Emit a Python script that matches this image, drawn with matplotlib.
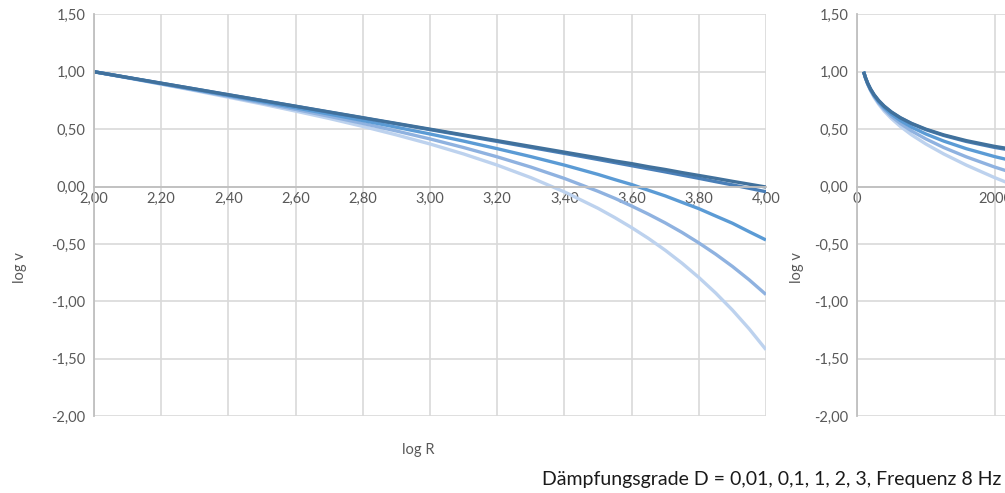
import matplotlib
matplotlib.use("Agg")
import matplotlib.pyplot as plt
from matplotlib.ticker import FuncFormatter

plt.rcParams['font.family'] = ['Lato', 'DejaVu Sans']

# log R stuetzstellen (gegen Ende enger, dort kruemmen sich die Kurven)
log_r = [2.0, 2.1, 2.2, 2.3, 2.4, 2.5, 2.6, 2.7, 2.8, 2.9, 3.0,
         3.1, 3.2, 3.3, 3.4, 3.5, 3.55, 3.6, 3.65, 3.7, 3.75,
         3.8, 3.85, 3.9, 3.95, 4.0]

# log v je Daempfungsgrad
v_d001 = [1.00, 0.95, 0.90, 0.85, 0.80, 0.75, 0.70, 0.65, 0.60, 0.55, 0.50,
          0.45, 0.40, 0.35, 0.30, 0.25, 0.223, 0.20, 0.173, 0.149, 0.122,
          0.097, 0.072, 0.046, 0.021, -0.004]
v_d01 = [1.00, 0.95, 0.90, 0.85, 0.799, 0.749, 0.699, 0.648, 0.598, 0.547, 0.496,
         0.445, 0.393, 0.341, 0.289, 0.236, 0.209, 0.182, 0.155, 0.128, 0.100,
         0.072, 0.043, 0.015, -0.015, -0.045]
v_d1 = [1.00, 0.949, 0.897, 0.845, 0.793, 0.740, 0.686, 0.631, 0.575, 0.517, 0.458,
        0.396, 0.330, 0.261, 0.187, 0.106, 0.061, 0.018, -0.032, -0.081, -0.137,
        -0.192, -0.256, -0.319, -0.393, -0.465]
v_d2 = [1.00, 0.948, 0.894, 0.841, 0.786, 0.729, 0.672, 0.612, 0.550, 0.484, 0.415,
        0.340, 0.259, 0.170, 0.071, -0.041, -0.102, -0.169, -0.240, -0.316, -0.399,
        -0.490, -0.588, -0.695, -0.812, -0.940]
v_d3 = [1.00, 0.946, 0.892, 0.836, 0.778, 0.719, 0.657, 0.593, 0.524, 0.450, 0.371,
        0.284, 0.187, 0.078, -0.046, -0.189, -0.270, -0.357, -0.451, -0.554, -0.667,
        -0.791, -0.926, -1.075, -1.239, -1.420]

serien = [v_d001, v_d01, v_d1, v_d2, v_d3]
farben = ['#41719c', '#4a7fb8', '#5b9bd5', '#8fb2e0', '#bdd2ee']

y_ticks = [-2.0, -1.5, -1.0, -0.5, 0.0, 0.5, 1.0, 1.5]
x_ticks_log = [2.0, 2.2, 2.4, 2.6, 2.8, 3.0, 3.2, 3.4, 3.6, 3.8, 4.0]
x_ticks_lin = [0, 2000, 4000, 6000, 8000, 10000]

GRID = '#d9d9d9'
AXIS = '#bfbfbf'
TXT = '#595959'
FS = 10.5

komma = FuncFormatter(lambda v, p: f"{v:.2f}".replace('.', ','))


def style_axes(ax):
    ax.set_ylim(-2.0, 1.5)
    ax.set_yticks(y_ticks)
    ax.yaxis.set_major_formatter(komma)
    ax.grid(True, color=GRID, lw=1.2)
    ax.set_axisbelow(True)
    for s in ['top', 'right']:
        ax.spines[s].set_visible(False)
    ax.spines['left'].set_color(AXIS)
    ax.spines['left'].set_linewidth(1.3)
    ax.spines['bottom'].set_position(('data', 0))
    ax.spines['bottom'].set_color(AXIS)
    ax.spines['bottom'].set_linewidth(1.3)
    ax.tick_params(length=0, labelsize=FS, labelcolor=TXT, pad=6)
    ax.tick_params(axis='x', pad=4)


fig = plt.figure(figsize=(10.05, 4.93), dpi=100)

# linkes Diagramm: log v ueber log R
ax1 = fig.add_axes([94 / 1005, 1 - 416.3 / 493, 672 / 1005, 402 / 493])
style_axes(ax1)
ax1.set_xlim(2.0, 4.0)
ax1.set_xticks(x_ticks_log)
ax1.xaxis.set_major_formatter(komma)
for i in reversed(range(len(serien))):
    ax1.plot(log_r, serien[i], color=farben[i], lw=2.4, solid_capstyle='butt')

# rechtes Diagramm: log v ueber R (linear)
r_lin = [10 ** x for x in log_r]
ax2 = fig.add_axes([856.7 / 1005, 1 - 416.3 / 493, 691.5 / 1005, 402 / 493])
style_axes(ax2)
ax2.set_xlim(0, 10000)
ax2.set_xticks(x_ticks_lin)
ax2.xaxis.set_major_formatter(FuncFormatter(lambda v, p: f"{v:.0f}"))
for i in reversed(range(len(serien))):
    ax2.plot(r_lin, serien[i], color=farben[i], lw=2.4, solid_capstyle='butt')

fig.text(20 / 1005, 1 - 268 / 493, 'log v', rotation=90, ha='center', va='center',
         fontsize=FS, color=TXT)
fig.text(797 / 1005, 1 - 268 / 493, 'log v', rotation=90, ha='center', va='center',
         fontsize=FS, color=TXT)
fig.text(418 / 1005, 1 - 450 / 493, 'log R', ha='center', va='center',
         fontsize=FS, color=TXT)
fig.text(1001 / 1005, 1 - 480 / 493, 'Dämpfungsgrade D = 0,01, 0,1, 1, 2, 3, Frequenz 8 Hz',
         ha='right', va='center', fontsize=14, color='#1a1a1a')

fig.savefig('out.png', dpi=100)
